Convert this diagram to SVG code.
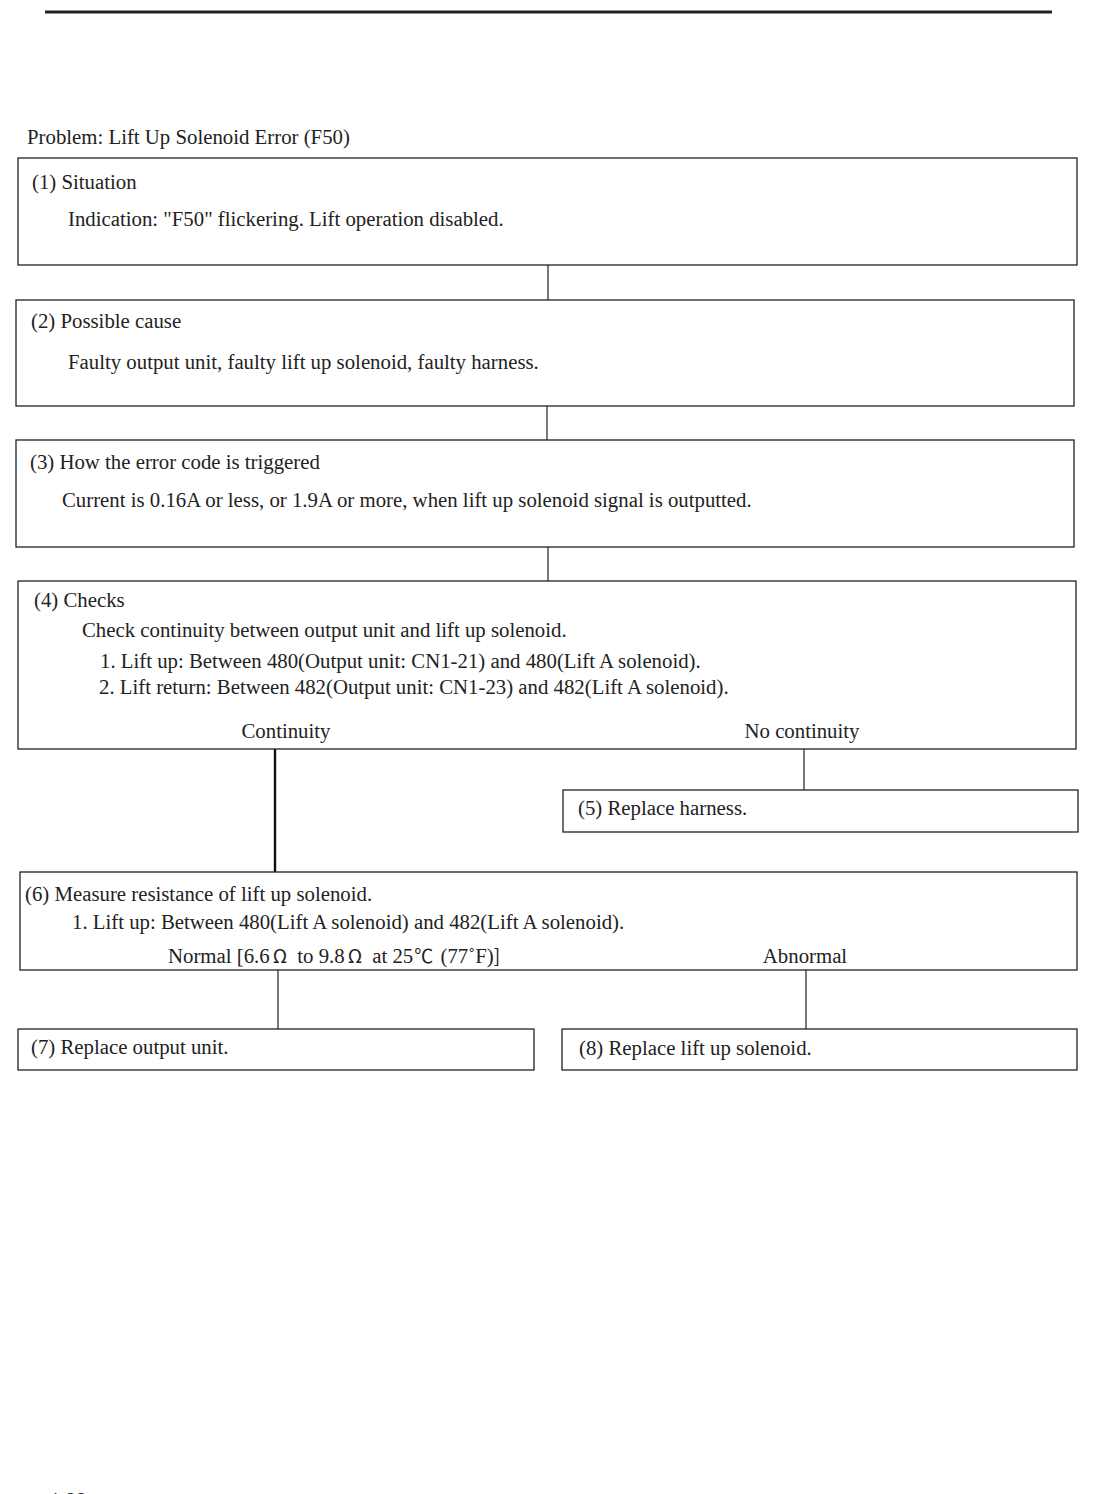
<svg xmlns="http://www.w3.org/2000/svg" width="1095" height="1494" viewBox="0 0 1095 1494">
<style>
.box{fill:#fff;stroke:#222;stroke-width:1.3}
.t{font-family:"Liberation Serif","Times New Roman",serif;font-size:20.8px;fill:#222}
.s{font-family:"Noto Sans CJK JP","DejaVu Sans",sans-serif;font-size:19px}
.c{stroke:#222;stroke-width:1.2;fill:none}
.ct{stroke:#111;stroke-width:2.4;fill:none}
</style>
<rect width="1095" height="1494" fill="#fff"/>
<line x1="45" y1="12" x2="1052" y2="12" stroke="#222" stroke-width="3"/>
<text class="t" x="27" y="144">Problem: Lift Up Solenoid Error (F50)</text>
<g id="connectors">
<line class="c" x1="548" y1="265" x2="548" y2="300"/>
<line class="c" x1="547" y1="406" x2="547" y2="440"/>
<line class="c" x1="548" y1="547" x2="548" y2="581"/>
<line class="ct" x1="275" y1="749" x2="275" y2="872"/>
<line class="c" x1="804" y1="749" x2="804" y2="790"/>
<line class="c" x1="278" y1="970" x2="278" y2="1029"/>
<line class="c" x1="806" y1="970" x2="806" y2="1029"/>
</g>
<g id="n1">
<rect class="box" x="18" y="158" width="1059" height="107"/>
<text class="t" x="32" y="189">(1) Situation</text>
<text class="t" x="68" y="226">Indication: "F50" flickering. Lift operation disabled.</text>
</g>
<g id="n2">
<rect class="box" x="16" y="300" width="1058" height="106"/>
<text class="t" x="31" y="328">(2) Possible cause</text>
<text class="t" x="68" y="369">Faulty output unit, faulty lift up solenoid, faulty harness.</text>
</g>
<g id="n3">
<rect class="box" x="16" y="440" width="1058" height="107"/>
<text class="t" x="30" y="469">(3) How the error code is triggered</text>
<text class="t" x="62" y="507">Current is 0.16A or less, or 1.9A or more, when lift up solenoid signal is outputted.</text>
</g>
<g id="n4">
<rect class="box" x="18" y="581" width="1058" height="168"/>
<text class="t" x="34" y="607">(4) Checks</text>
<text class="t" x="82" y="637">Check continuity between output unit and lift up solenoid.</text>
<text class="t" x="100" y="668">1. Lift up: Between 480(Output unit: CN1-21) and 480(Lift A solenoid).</text>
<text class="t" x="99" y="694">2. Lift return: Between 482(Output unit: CN1-23) and 482(Lift A solenoid).</text>
<text class="t" x="286" y="738" text-anchor="middle">Continuity</text>
<text class="t" x="802" y="738" text-anchor="middle">No continuity</text>
</g>
<g id="n5">
<rect class="box" x="563" y="790" width="515" height="42"/>
<text class="t" x="578" y="815">(5) Replace harness.</text>
</g>
<g id="n6">
<rect class="box" x="20" y="872" width="1057" height="98"/>
<text class="t" x="25" y="901">(6) Measure resistance of lift up solenoid.</text>
<text class="t" x="72" y="929">1. Lift up: Between 480(Lift A solenoid) and 482(Lift A solenoid).</text>
<text class="t" x="168" y="963">Normal [6.6<tspan class="s" dx="3">Ω</tspan><tspan dx="5"> to 9.8</tspan><tspan class="s" dx="3">Ω</tspan><tspan dx="5"> at 25</tspan><tspan class="s" dx="1">℃</tspan><tspan dx="2"> (77˚F)</tspan><tspan class="s">]</tspan></text>
<text class="t" x="805" y="963" text-anchor="middle">Abnormal</text>
</g>
<g id="n7">
<rect class="box" x="18" y="1029" width="516" height="41"/>
<text class="t" x="31" y="1054">(7) Replace output unit.</text>
</g>
<g id="n8">
<rect class="box" x="562" y="1029" width="515" height="41"/>
<text class="t" x="579" y="1055">(8) Replace lift up solenoid.</text>
</g>
<text class="t" x="48" y="1507" font-size="20">4-88</text>
</svg>
